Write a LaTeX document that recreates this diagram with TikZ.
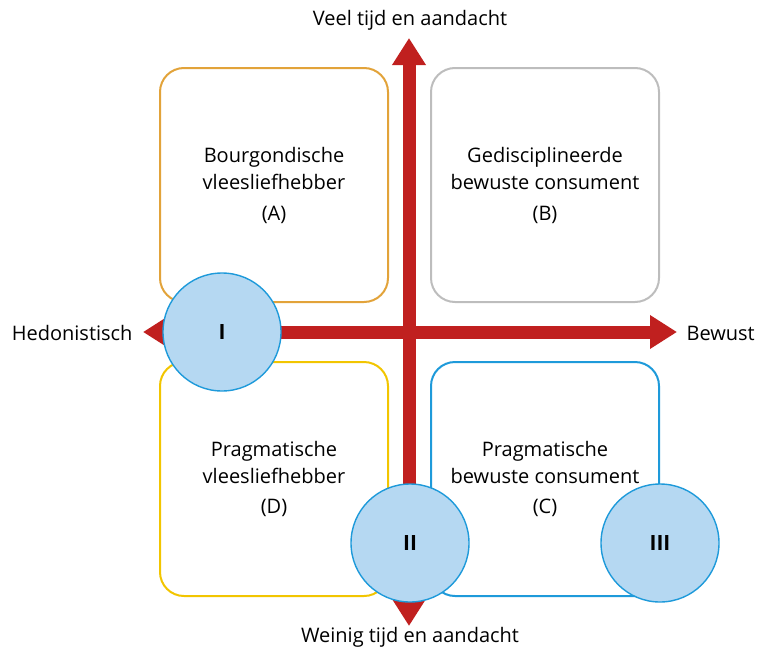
\documentclass[tikz,border=0pt]{standalone}
\usepackage{fontspec}
\setmainfont{Open Sans}
\usetikzlibrary{arrows.meta}
\definecolor{cred}{HTML}{C0201F}
\definecolor{corange}{HTML}{E2A33A}
\definecolor{cgrey}{HTML}{BDBDBD}
\definecolor{cyellow}{HTML}{F2C500}
\definecolor{cblue}{HTML}{1E9ADA}
\definecolor{cfill}{HTML}{B5D8F2}
\begin{document}
\begin{tikzpicture}[x=1pt,y=-1pt,
  quad/.style={draw, line width=2pt, rounded corners=24pt, minimum width=228pt, minimum height=234pt, inner sep=0pt},
  lbl/.style={font=\fontsize{20}{27}\selectfont, align=center, text=black},
  axis/.style={draw=cred, line width=13pt, -{Triangle[length=27pt,width=32pt]}},
  seg/.style={circle, draw=cblue, line width=1.4pt, fill=cfill, minimum size=118pt, inner sep=0pt, font=\fontsize{21}{24}\selectfont\bfseries},
  ax/.style={font=\fontsize{20}{22}\selectfont, text=black}]
\useasboundingbox (0,0) rectangle (757,653);
\node[quad, draw=corange] (A) at (274,185) {};
\node[quad, draw=cgrey] (B) at (545,185) {};
\node[quad, draw=cyellow] (D) at (274,479) {};
\node[quad, draw=cblue] (C) at (545,479) {};
\node[lbl] (tA) at (274,168) {Bourgondische\\vleesliefhebber};
\node[lbl] (lA) at (274,215) {(A)};
\node[lbl] (tB) at (545,168) {Gedisciplineerde\\bewuste consument};
\node[lbl] (lB) at (545,215) {(B)};
\node[lbl] (tD) at (274,462) {Pragmatische\\vleesliefhebber};
\node[lbl] (lD) at (274,508) {(D)};
\node[lbl] (tC) at (545,462) {Pragmatische\\bewuste consument};
\node[lbl] (lC) at (545,508) {(C)};
\coordinate (c) at (409,332);
\coordinate (up) at (409,38);
\coordinate (down) at (409,626);
\coordinate (left) at (143,332);
\coordinate (right) at (677,332);
\draw[axis] (c) -- (up);
\draw[axis] (c) -- (down);
\draw[axis] (c) -- (left);
\draw[axis] (c) -- (right);
\node[seg] (I) at (222,332) {I};
\node[seg] (II) at (410,543) {II};
\node[seg] (III) at (660,543) {III};
\node[ax] (top) at (410,20) {Veel tijd en aandacht};
\node[ax] (bot) at (410,637) {Weinig tijd en aandacht};
\node[ax, anchor=east] (hed) at (136,333) {Hedonistisch};
\node[ax, anchor=west] (bew) at (683,333) {Bewust};
\end{tikzpicture}
\end{document}
